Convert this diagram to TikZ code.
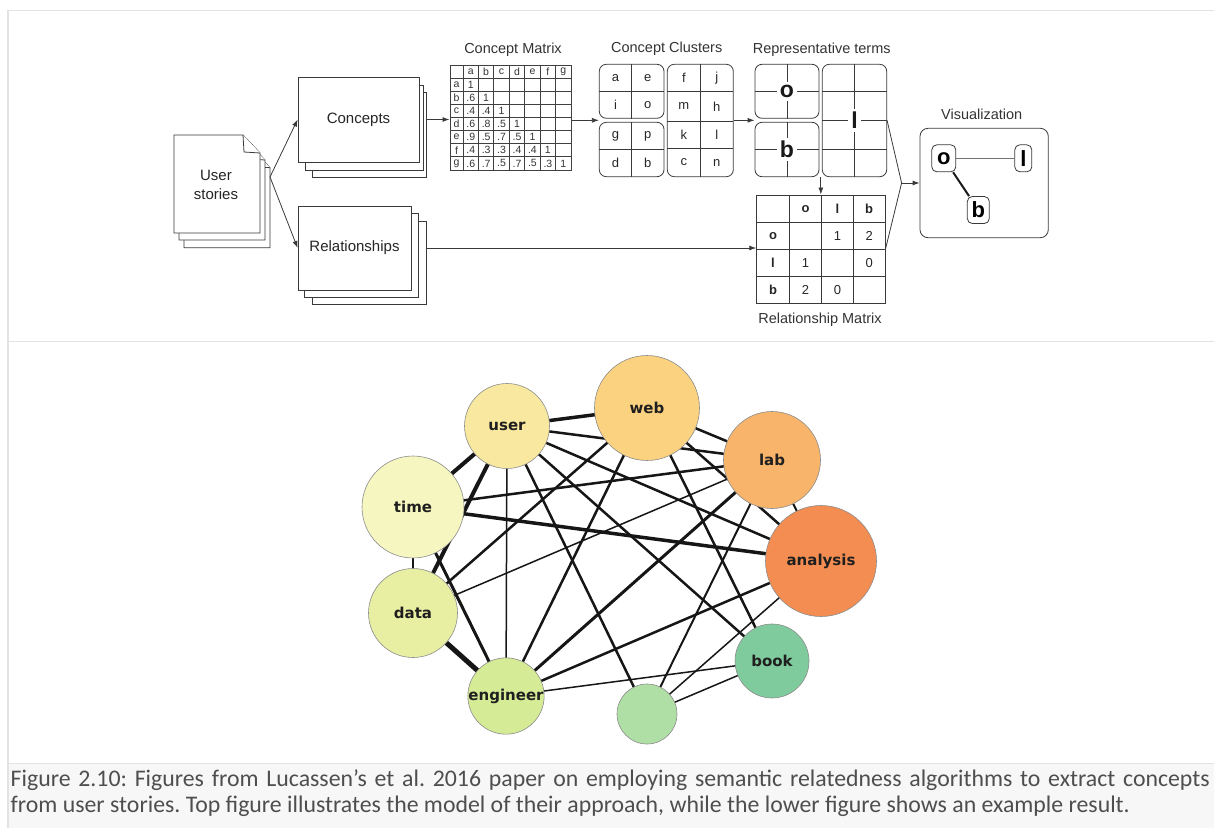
\documentclass[tikz,border=0pt]{standalone}
\usepackage{fontspec}
\setmainfont{Liberation Sans}
\newfontfamily\graphfont{DejaVu Sans}
\newfontfamily\captionfont{Carlito}
\usetikzlibrary{arrows.meta,calc,backgrounds}

\definecolor{framegray}{HTML}{E3E3E3}
\definecolor{capbg}{HTML}{F7F7F7}
\definecolor{captext}{HTML}{4E4E4E}
\definecolor{ink}{HTML}{3A3A3A}
\definecolor{edgeink}{HTML}{161616}
\definecolor{cTime}{HTML}{F6F6C0}
\definecolor{cUser}{HTML}{F9E89F}
\definecolor{cWeb}{HTML}{FBD27F}
\definecolor{cLab}{HTML}{F8B46A}
\definecolor{cAnalysis}{HTML}{F48D52}
\definecolor{cData}{HTML}{E8EFA2}
\definecolor{cEngineer}{HTML}{D5EB96}
\definecolor{cPlain}{HTML}{B0DFA6}
\definecolor{cBook}{HTML}{80CB9D}

\newcommand\drawpage[2]{%
  \draw[sheet] (#1,#2) -- ++(69,0) -- ++(17,18) -- ++(0,80) -- ++(-86,0) -- cycle;
  \draw[sheet] (#1+69,#2) .. controls (#1+70,#2+8) .. (#1+70,#2+17) -- (#1+86,#2+18);
}

\tikzset{
  sheet/.style={draw=ink, fill=white, line width=0.8pt, inner sep=0pt},
  lbl/.style={font=\fontsize{15pt}{19pt}\selectfont, text=black!85, inner sep=0pt},
  title/.style={font=\fontsize{14.5pt}{17pt}\selectfont, text=black!80, inner sep=0pt},
  flow/.style={-{Latex[length=7pt,width=5pt]}, line width=0.8pt, draw=ink},
  plainline/.style={line width=0.8pt, draw=ink},
  cluster/.style={draw=ink, line width=0.8pt, rounded corners=7pt, inner sep=0pt},
  boxgrid/.style={draw=ink, line width=0.7pt},
  mgrid/.style={draw=black!75, line width=0.9pt},
  mtxt/.style={font=\fontsize{10.5pt}{11pt}\selectfont, text=black!80, inner sep=0pt},
  ctxt/.style={font=\fontsize{13pt}{14pt}\selectfont, text=black!85, inner sep=0pt},
  bigterm/.style={font=\fontsize{23pt}{24pt}\selectfont\bfseries, text=black!90, fill=white, inner sep=3pt},
  vnode/.style={draw=ink, line width=0.8pt, rounded corners=5pt, inner sep=0pt, minimum height=27pt,
    font=\fontsize{22pt}{23pt}\selectfont\bfseries},
  concept/.style={circle, draw=black!45, line width=0.6pt, inner sep=0pt,
    font=\graphfont\bfseries\fontsize{15pt}{16pt}\selectfont, text=black!88},
  captionline/.style={anchor=base west, inner sep=0pt, text=captext,
    font=\captionfont\fontsize{23.8pt}{26pt}\selectfont\frenchspacing},
  w15/.style={draw=edgeink, line width=1.5pt},
  w2/.style={draw=edgeink, line width=2pt},
  w25/.style={draw=edgeink, line width=2.5pt},
  w3/.style={draw=edgeink, line width=3pt},
  w35/.style={draw=edgeink, line width=3.5pt},
  w4/.style={draw=edgeink, line width=4pt},
  w5/.style={draw=edgeink, line width=5pt},
}

\begin{document}
\begin{tikzpicture}[x=1pt,y=-1pt]
\useasboundingbox (0,0) rectangle (1214,827);

% page frame, separator and caption strip
\fill[capbg] (8,763) rectangle (1216,829);
\draw[framegray, line width=1pt] (8,763) -- (1216,763);
\draw[framegray, line width=1.5pt] (8,829) -- (8,10.5) -- (1216,10.5);
\draw[framegray, line width=1.5pt] (8,341.5) -- (1216,341.5);

% ---------------- model of the approach ----------------
% user stories: a stack of three pages with folded corners
\drawpage{184}{149.7}
\drawpage{179}{142}
\drawpage{174}{135}
\node[lbl, align=center] (stories) at (216,185) {User\\stories};
\coordinate (usout) at (270,177);

% concepts stack
\node[sheet, minimum width=114pt, minimum height=85pt] (conc3) at (369,134.5) {};
\node[sheet, minimum width=118pt, minimum height=85pt] (conc2) at (364,127.5) {};
\node[sheet, lbl, minimum width=121pt, minimum height=85pt] (concepts) at (358.5,119.5) {Concepts};

% relationships stack
\node[sheet, minimum width=114pt, minimum height=83pt] (rel3) at (369,262.5) {};
\node[sheet, minimum width=114pt, minimum height=84pt] (rel2) at (361,255) {};
\node[sheet, lbl, minimum width=113pt, minimum height=84pt] (rel) at (354.5,248) {Relationships};

\draw[flow] (usout) -- (concepts.west);
\draw[flow] (usout) -- (rel.west);

% concept matrix
\node[title] (tcm) at (513,50) {Concept Matrix};
\node[draw=black!75, line width=1pt, minimum width=121pt, minimum height=105pt, inner sep=0pt] (cmat) at (510.5,117.5) {};
\foreach \i in {0,...,6} {
  \draw[mgrid] (463+\i*15.43,65) -- (463+\i*15.43,170);
  \draw[mgrid] (450,78+\i*13.14) -- (571,78+\i*13.14);
}
\foreach \c [count=\i] in {a,b,c,d,e,f,g} {
  \node[mtxt] at (463+\i*15.43-7.7,71.5) {\c};
  \node[mtxt] at (456.5,78+\i*13.14-6.57) {\c};
}
\foreach \r/\vals in {1/{1},2/{.6,1},3/{.4,.4,1},4/{.6,.8,.5,1},5/{.9,.5,.7,.5,1},6/{.4,.3,.3,.4,.4,1},7/{.6,.7,.5,.7,.5,.3,1}} {
  \foreach \v [count=\c] in \vals {
    \node[mtxt] at (463+\c*15.43-7.7,78+\r*13.14-6.57) {\v};
  }
}

% concept clusters
\node[title] (tcc) at (666.7,48.5) {Concept Clusters};
\node[cluster, minimum width=64.7pt, minimum height=54pt] (clA) at (631.65,91.3) {};
\node[cluster, minimum width=64.7pt, minimum height=54.4pt] (clB) at (631.65,149.5) {};
\node[cluster, minimum width=66pt, minimum height=112.4pt] (clC) at (700.3,120.5) {};
\draw[boxgrid] (clA.north) -- (clA.south) (clA.west) -- (clA.east);
\draw[boxgrid] (clB.north) -- (clB.south) (clB.west) -- (clB.east);
\draw[boxgrid] (clC.north) -- (clC.south);
\draw[boxgrid] (667.3,91.7) -- (733.3,91.7) (667.3,121) -- (733.3,121) (667.3,148.3) -- (733.3,148.3);
\foreach \t/\x/\y in {a/615.5/78, e/647.8/78, i/615.5/105, o/647.8/105,
                      g/615.5/136, p/647.8/136, d/615.5/163, b/647.8/163,
                      f/683.8/78, j/716.8/78, m/683.8/106.5, h/716.8/106.5,
                      k/683.8/134.5, l/716.8/134.5, c/683.8/162.5, n/716.8/162.5} {
  \node[ctxt] at (\x,\y) {\t};
}
\coordinate (cmid) at ($(clA.south west)!0.5!(clB.north west)$);
\draw[flow] (cmat.east |- cmid) -- (cmid);

% representative terms
\node[title] (trt) at (821.7,50) {Representative terms};
\node[cluster, minimum width=64pt, minimum height=54pt] (tA) at (787,91.3) {};
\node[cluster, minimum width=64pt, minimum height=54.4pt] (tB) at (787,149.5) {};
\node[cluster, minimum width=64.4pt, minimum height=112.4pt] (tC) at (854.5,120.5) {};
\draw[boxgrid] (tA.north) -- (tA.south) (tA.west) -- (tA.east);
\draw[boxgrid] (tB.north) -- (tB.south) (tB.west) -- (tB.east);
\draw[boxgrid] (tC.north) -- (tC.south) (tC.west) -- (tC.east);
\draw[boxgrid] (822.3,91.7) -- (886.7,91.7) (822.3,149) -- (886.7,149);
\node[bigterm] (termo) at (tA.center) {o};
\node[bigterm] (termb) at (tB.center) {b};
\node[bigterm] (terml) at (tC.center) {l};
\coordinate (tmid) at ($(tA.south west)!0.5!(tB.north west)$);
\draw[flow] (clC.east |- tmid) -- (tmid);

% relationship matrix
\node[title] (trm) at (820,320) {Relationship Matrix};
\node[draw=ink, line width=0.9pt, minimum width=128.3pt, minimum height=108.3pt, inner sep=0pt] (rmat) at (820.85,249.15) {};
\draw[boxgrid] (789.3,195) -- (789.3,303.3) (821.7,195) -- (821.7,303.3) (853.3,195) -- (853.3,303.3);
\draw[boxgrid] (756.7,222.7) -- (885,222.7) (756.7,249.3) -- (885,249.3) (756.7,276) -- (885,276);
\foreach \t/\x/\y in {o/805.5/208.85, l/837.5/208.85, b/869.2/208.85,
                      o/773/236, l/773/262.65, b/773/289.65} {
  \node[ctxt, font=\fontsize{13pt}{14pt}\selectfont\bfseries] at (\x,\y) {\t};
}
\foreach \t/\x/\y in {1/837.5/236, 2/869.2/236, 1/805.5/262.65, 0/869.2/262.65,
                      2/805.5/289.65, 0/837.5/289.65} {
  \node[ctxt] at (\x,\y) {\t};
}
\draw[flow] (rmat.north |- tB.south) -- (rmat.north);
\draw[flow] (rel.east -| rel3.east) -- (rel.east -| rmat.west);
\draw[flow] (concepts.east -| conc3.east) -- (concepts.east -| cmat.west);

% visualization
\node[title] (tvis) at (981.7,114.3) {Visualization};
\node[cluster, rounded corners=8pt, minimum width=128.3pt, minimum height=109.4pt] (vis) at (984.15,183) {};
\node[vnode, minimum width=24pt] (vo) at (943.8,158.3) {o};
\node[vnode, minimum width=17pt] (vl) at (1023.3,158.3) {l};
\node[vnode, minimum width=22pt] (vb) at (978.3,210) {b};
\draw[draw=black!55, line width=0.7pt] (vo) -- (vl);
\draw[draw=black!90, line width=2pt] (vo) -- (vb);
\coordinate (conv) at ($(vis.west)+(-18,0)$);
\draw[plainline] (tC.east) -- (conv);
\draw[plainline] (rmat.east) -- (conv);
\draw[flow] (conv) -- (vis.west);

% ---------------- example concept graph ----------------
\node[concept, fill=cUser, minimum size=85pt] (U) at (507,426) {user};
\node[concept, fill=cWeb, minimum size=105pt] (W) at (647,408) {web};
\node[concept, fill=cLab, minimum size=97pt] (L) at (772,460) {lab};
\node[concept, fill=cAnalysis, minimum size=111pt] (A) at (821,561) {analysis};
\node[concept, fill=cTime, minimum size=102pt] (T) at (413,507) {time};
\node[concept, fill=cData, minimum size=89pt] (D) at (413,613) {data};
\node[concept, fill=cEngineer, minimum size=74pt] (E) at (506,696) {engineer};
\node[concept, fill=cPlain, minimum size=60pt] (X) at (647,714) {};
\node[concept, fill=cBook, minimum size=74pt] (B) at (772,661) {book};

\begin{scope}[on background layer]
  \draw[w5] (D.center) -- (E.center);
  \draw[w4] (U.center) -- (T.center);
  \draw[w4] (U.center) -- (D.center);
  \draw[w35] (U.center) -- (W.center);
  \draw[w35] (T.center) -- (A.center);
  \draw[w3] (E.center) -- (L.center);
  \draw[w3] (T.center) -- (E.center);
  \draw[w25] (U.center) -- (L.center);
  \draw[w25] (U.center) -- (A.center);
  \draw[w25] (U.center) -- (B.center);
  \draw[w25] (U.center) -- (X.center);
  \draw[w25] (T.center) -- (L.center);
  \draw[w25] (D.center) -- (W.center);
  \draw[w25] (E.center) -- (W.center);
  \draw[w25] (E.center) -- (A.center);
  \draw[w25] (W.center) -- (L.center);
  \draw[w25] (W.center) -- (B.center);
  \draw[w25] (W.center) -- (A.center);
  \draw[w2] (T.center) -- (D.center);
  \draw[w2] (X.center) -- (L.center);
  \draw[w2] (L.center) -- (A.center);
  \draw[w15] (U.center) -- (E.center);
  \draw[w15] (D.center) -- (L.center);
  \draw[w15] (E.center) -- (B.center);
  \draw[w15] (X.center) -- (A.center);
  \draw[w15] (X.center) -- (B.center);
\end{scope}

% ---------------- caption ----------------
\node[captionline] (cap1) at (10.5,786)
  {\makebox[1199pt][s]{Figure 2.10: Figures from Lucassen’s et al. 2016 paper on employing semantic relatedness algorithms to extract concepts}};
\node[captionline] (cap2) at (10.5,812)
  {from user stories. Top figure illustrates the model of their approach, while the lower figure shows an example result.};
\end{tikzpicture}
\end{document}
